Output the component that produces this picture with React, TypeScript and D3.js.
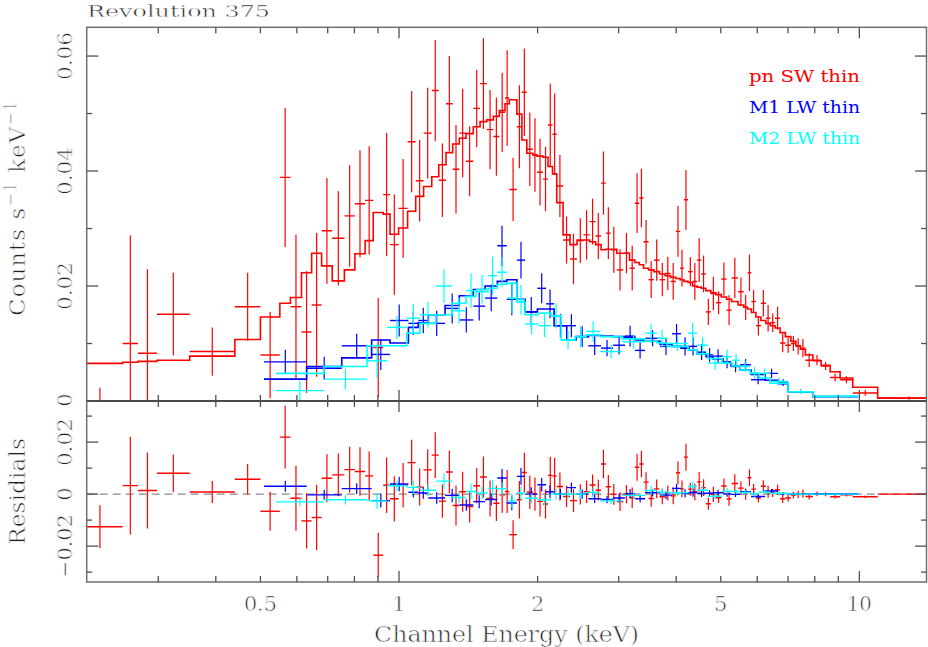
import React from 'react';
import * as d3 from 'd3';

// ---------- pn SW thin (red) ----------
const pnEdges = [0.2, 0.251, 0.271, 0.298, 0.351, 0.440, 0.500, 0.551, 0.581, 0.614, 0.646, 0.679, 0.716, 0.761, 0.802, 0.844, 0.879, 0.924, 0.956, 0.998, 1.044, 1.087, 1.131, 1.178, 1.220, 1.265, 1.308, 1.352, 1.398, 1.450, 1.500, 1.551, 1.603, 1.652, 1.699, 1.736, 1.803, 1.849, 1.895, 1.953, 1.995, 2.055, 2.107, 2.155, 2.201, 2.272, 2.352, 2.436, 2.517, 2.594, 2.673, 2.747, 2.814, 2.885, 2.972, 3.071, 3.168, 3.253, 3.326, 3.398, 3.484, 3.577, 3.681, 3.784, 3.889, 3.994, 4.079, 4.157, 4.245, 4.342, 4.441, 4.535, 4.640, 4.758, 4.878, 5.012, 5.146, 5.277, 5.451, 5.609, 5.717, 5.826, 5.959, 6.110, 6.264, 6.407, 6.560, 6.726, 6.906, 7.100, 7.280, 7.446, 7.635, 7.926, 8.258, 8.639, 9.082, 9.675, 10.96, 15];
const pnRate = [-0.006, 0.0100, 0.0083, 0.0151, 0.0086, 0.0164, 0.0080, 0.0389, 0.0164, 0.0120, 0.0167, 0.0296, 0.0283, 0.0322, 0.0343, 0.0349, 0.0093, 0.0359, 0.0272, 0.0335, 0.0451, 0.0383, 0.0466, 0.0540, 0.0384, 0.0517, 0.0403, 0.0466, 0.0417, 0.0509, 0.0552, 0.0472, 0.0460, 0.0502, 0.0527, 0.0368, 0.0477, 0.0537, 0.0438, 0.0428, 0.0398, 0.0386, 0.0480, 0.0464, 0.0374, 0.0280, 0.0247, 0.0279, 0.0289, 0.0312, 0.0287, 0.0379, 0.0292, 0.0263, 0.0228, 0.0257, 0.0231, 0.0344, 0.0353, 0.0277, 0.0211, 0.0245, 0.0211, 0.0222, 0.0208, 0.0295, 0.0231, 0.0350, 0.0225, 0.0208, 0.0245, 0.0221, 0.0155, 0.0187, 0.0171, 0.0212, 0.0158, 0.0214, 0.0190, 0.0163, 0.0223, 0.0173, 0.0131, 0.0170, 0.0144, 0.0136, 0.0144, 0.0101, 0.0097, 0.0100, 0.0095, 0.0092, 0.0071, 0.0071, 0.0061, 0.0041, 0.0037, 0.0014, 0.0005];
const pnErr = [0.0083, 0.0188, 0.0146, 0.0072, 0.0042, 0.0059, 0.0075, 0.0121, 0.0125, 0.0106, 0.0125, 0.0092, 0.0082, 0.0088, 0.0093, 0.0094, 0.0086, 0.0107, 0.0087, 0.0086, 0.0088, 0.0071, 0.0079, 0.0088, 0.0064, 0.0083, 0.0077, 0.0077, 0.0061, 0.0067, 0.0079, 0.0069, 0.0068, 0.0069, 0.0083, 0.0055, 0.0072, 0.0076, 0.0064, 0.0064, 0.0058, 0.0056, 0.0072, 0.0071, 0.0054, 0.0041, 0.0044, 0.0039, 0.0043, 0.0040, 0.0040, 0.0055, 0.0045, 0.0040, 0.0036, 0.0035, 0.0039, 0.0052, 0.0051, 0.0038, 0.0032, 0.0036, 0.0029, 0.0029, 0.0032, 0.0044, 0.0032, 0.0052, 0.0025, 0.0032, 0.0038, 0.0032, 0.0023, 0.0029, 0.0020, 0.0029, 0.0026, 0.0035, 0.0025, 0.0022, 0.0032, 0.0020, 0.0017, 0.0023, 0.0023, 0.0016, 0.0020, 0.0016, 0.0013, 0.0013, 0.0014, 0.0016, 0.0012, 0.0009, 0.0007, 0.0007, 0.0006, 0.0005, 0.0003];
const pnModel = [0.00655, 0.00673, 0.0069, 0.00708, 0.0078, 0.0107, 0.0146, 0.0170, 0.0180, 0.0223, 0.0257, 0.0235, 0.0209, 0.0228, 0.0256, 0.0279, 0.0328, 0.0325, 0.0290, 0.0301, 0.0330, 0.0356, 0.0373, 0.0390, 0.0411, 0.0432, 0.0447, 0.0457, 0.0465, 0.0477, 0.0486, 0.0489, 0.0495, 0.0505, 0.0517, 0.0524, 0.0499, 0.0454, 0.0431, 0.0428, 0.0426, 0.0424, 0.0408, 0.0395, 0.0345, 0.0289, 0.0272, 0.0280, 0.0280, 0.0277, 0.0272, 0.0263, 0.0264, 0.0264, 0.0257, 0.0257, 0.0245, 0.0241, 0.0237, 0.0231, 0.0228, 0.0225, 0.0221, 0.0218, 0.0215, 0.0213, 0.0211, 0.0208, 0.0206, 0.0200, 0.0198, 0.0196, 0.0192, 0.0188, 0.0185, 0.0181, 0.0177, 0.0173, 0.0167, 0.0163, 0.0160, 0.0154, 0.0146, 0.0140, 0.0135, 0.0131, 0.0127, 0.0119, 0.0112, 0.0104, 0.0096, 0.0090, 0.0080, 0.0070, 0.0062, 0.0051, 0.0040, 0.0024, 0.0005];

// ---------- M1 LW thin (blue) ----------
const m1Edges = [0.509, 0.630, 0.751, 0.872, 0.956, 1.048, 1.101, 1.158, 1.259, 1.352, 1.450, 1.538, 1.635, 1.714, 1.803, 1.879, 1.998, 2.086, 2.172, 2.314, 2.424, 2.578, 2.747, 2.917, 3.098, 3.257, 3.424, 3.690, 3.918, 4.099, 4.266, 4.441, 4.645, 4.811, 5.057, 5.264, 5.506, 5.818, 6.240, 6.659, 6.999, 7.934, 9.935];
const m1Rate = [0.0068, 0.0057, 0.0096, 0.0081, 0.0140, 0.0135, 0.0140, 0.0135, 0.0161, 0.0141, 0.0165, 0.0179, 0.0270, 0.0177, 0.0245, 0.0155, 0.0196, 0.0169, 0.0131, 0.0131, 0.0112, 0.0096, 0.0092, 0.0097, 0.0113, 0.0088, 0.0109, 0.0095, 0.0117, 0.0095, 0.0095, 0.0085, 0.0080, 0.0078, 0.0068, 0.0060, 0.0063, 0.0037, 0.0048, 0.0032, 0.0016, 0.0008];
const m1Err = [0.0021, 0.0020, 0.0021, 0.0027, 0.0028, 0.0020, 0.0022, 0.0022, 0.0026, 0.0022, 0.0025, 0.0023, 0.0035, 0.0028, 0.0032, 0.0026, 0.0026, 0.0025, 0.0020, 0.0020, 0.0018, 0.0016, 0.0014, 0.0016, 0.0018, 0.0014, 0.0014, 0.0015, 0.0017, 0.0016, 0.0016, 0.0014, 0.0012, 0.0012, 0.0011, 0.0010, 0.0010, 0.0008, 0.0008, 0.0006, 0.0004, 0.0002];
const m1Model = [0.0038, 0.0060, 0.0075, 0.0106, 0.0101, 0.0128, 0.0136, 0.0150, 0.0166, 0.0183, 0.0194, 0.0200, 0.0208, 0.0211, 0.0177, 0.0155, 0.0160, 0.0160, 0.0131, 0.0106, 0.0112, 0.0114, 0.0113, 0.0112, 0.0111, 0.0106, 0.0104, 0.0099, 0.0095, 0.0092, 0.0089, 0.0082, 0.0077, 0.0073, 0.0067, 0.0061, 0.0054, 0.0046, 0.0036, 0.0030, 0.0016, 0.00075];

// ---------- M2 LW thin (cyan) ----------
const m2Edges = [0.540, 0.687, 0.852, 0.942, 1.039, 1.111, 1.203, 1.304, 1.398, 1.470, 1.561, 1.633, 1.717, 1.803, 1.879, 2.005, 2.139, 2.249, 2.412, 2.549, 2.734, 3.052, 3.424, 3.635, 3.822, 4.245, 4.441, 4.692, 5.032, 5.290, 5.506, 5.789, 6.055, 6.398, 6.999, 7.934, 9.935];
const m2Rate = [0.0018, 0.0038, 0.0070, 0.0128, 0.0144, 0.0150, 0.0200, 0.0157, 0.0192, 0.0194, 0.0218, 0.0224, 0.0179, 0.0176, 0.0134, 0.0131, 0.0148, 0.0106, 0.0112, 0.0121, 0.0086, 0.0103, 0.0118, 0.0109, 0.0100, 0.0118, 0.0097, 0.0066, 0.0077, 0.0071, 0.0060, 0.0049, 0.0048, 0.0034, 0.0016, 0.0008];
const m2Err = [0.0017, 0.0018, 0.0030, 0.0020, 0.0025, 0.0022, 0.0029, 0.0022, 0.0030, 0.0025, 0.0033, 0.0026, 0.0027, 0.0026, 0.0018, 0.0020, 0.0022, 0.0016, 0.0018, 0.0018, 0.0012, 0.0012, 0.0017, 0.0015, 0.0013, 0.0018, 0.0014, 0.0012, 0.0012, 0.0011, 0.0010, 0.0010, 0.0009, 0.0007, 0.0004, 0.0002];
const m2Model = [0.0048, 0.0060, 0.0096, 0.0096, 0.0118, 0.0135, 0.0150, 0.0170, 0.0182, 0.0190, 0.0196, 0.0203, 0.0205, 0.0172, 0.0150, 0.0153, 0.0148, 0.0106, 0.0112, 0.0115, 0.0112, 0.0108, 0.0104, 0.0101, 0.0095, 0.0089, 0.0082, 0.0074, 0.0066, 0.0061, 0.0054, 0.0048, 0.0040, 0.0031, 0.0016, 0.0008];

// ---------- axes ----------
const xLabeledTicks = [0.5, 1, 2, 5, 10];
const xLabelText = ['0.5', '1', '2', '5', '10'];
const xAllTicks = [0.3, 0.4, 0.5, 0.6, 0.7, 0.8, 0.9, 1, 2, 3, 4, 5, 6, 7, 8, 9, 10];
const xLongTicks = [1, 10];
const topMajor = [0, 0.02, 0.04, 0.06];
const topMajorText = ['0', '0.02', '0.04', '0.06'];
const topMinor = [0.01, 0.03, 0.05];
const resMajor = [-0.02, 0, 0.02];
const resMajorText = ['\u22120.02', '0', '0.02'];
const resMinor = [-0.03, -0.01, 0.01, 0.03];

const legendNames = ['pn SW thin', 'M1 LW thin', 'M2 LW thin'];
const colors = ['#ff0000', '#0000ff', '#00ffff'];

const seriesList = [
  { edges: pnEdges, rate: pnRate, err: pnErr, model: pnModel },
  { edges: m1Edges, rate: m1Rate, err: m1Err, model: m1Model },
  { edges: m2Edges, rate: m2Rate, err: m2Err, model: m2Model },
];

const FONT = "DejaVu Serif";
const TXT = '#222222';
// thin the glyph strokes a little (white outline painted over the fill)
const thin = (w: number) => ({ stroke: '#ffffff', strokeWidth: w, paintOrder: 'fill' as any });

export default function App() {
  const W = 928, H = 647;
  const L = 86.7, R = 926.5, T = 27.3, MID = 401, B = 582;
  const x = d3.scaleLog().domain([0.2097, 13.99]).range([L, R]);
  const yTop = d3.scaleLinear().domain([0, 0.065]).range([MID, T]);
  const yRes = d3.scaleLinear().domain([-0.0338, 0.0358]).range([B, MID]);

  const drawSeries = (s: any, color: string, panel: 'top' | 'res', key: string) => {
    const y = panel === 'top' ? yTop : yRes;
    const n = s.rate.length;
    const items: any[] = [];
    for (let i = 0; i < n; i++) {
      const lo = s.edges[i], hi = s.edges[i + 1];
      const c = Math.sqrt(lo * hi);
      const v = panel === 'top' ? s.rate[i] : s.rate[i] - s.model[i];
      const e = s.err[i];
      items.push(
        <g key={key + i}>
          <line x1={x(lo)} x2={x(hi)} y1={y(v)} y2={y(v)} stroke={color} strokeWidth={1.4} />
          <line x1={x(c)} x2={x(c)} y1={y(v - e)} y2={y(v + e)} stroke={color} strokeWidth={1.2} />
        </g>
      );
    }
    return items;
  };

  const modelPath = (s: any) => {
    const pts: [number, number][] = s.model.map((m: number, i: number) => [s.edges[i], m]);
    pts.push([s.edges[s.edges.length - 1], s.model[s.model.length - 1]]);
    const line = d3.line<[number, number]>().x(d => x(d[0])).y(d => yTop(d[1])).curve(d3.curveStepAfter);
    return line(pts) || '';
  };

  const frameColor = '#707070';
  const tickColor = '#505050';

  const xTicks = (yEdge: number, dir: number, key: string) =>
    xAllTicks.map((t, i) => {
      const len = xLongTicks.includes(t) ? 11 : 6;
      return <line key={key + i} x1={x(t)} x2={x(t)} y1={yEdge} y2={yEdge + dir * len} stroke={tickColor} strokeWidth={1.3} />;
    });

  const yTicks = (vals: number[], scale: any, len: number, key: string) =>
    vals.flatMap((v, i) => [
      <line key={key + 'l' + i} x1={L} x2={L + len} y1={scale(v)} y2={scale(v)} stroke={tickColor} strokeWidth={1.3} />,
      <line key={key + 'r' + i} x1={R} x2={R - len} y1={scale(v)} y2={scale(v)} stroke={tickColor} strokeWidth={1.3} />,
    ]);

  const rotLabel = (txt: string, cx: number, cy: number, size: number, key: string, len?: number) => (
    <text key={key} transform={`translate(${cx},${cy}) rotate(-90)`} textAnchor="middle" fontFamily={FONT}
      fontSize={size} fill={TXT} {...thin(0.7)} {...(len ? { textLength: len, lengthAdjust: 'spacingAndGlyphs' } : {})}>{txt}</text>
  );

  const lenFor = (s: string) => (s.length <= 1 ? undefined : s.startsWith('\u2212') ? 64 : 48);

  return (
    <svg width={W} height={H} style={{ position: 'absolute', left: 0, top: 0, background: '#fff' }}>
      <defs>
        <clipPath id="clipTop"><rect x={L} y={T} width={R - L} height={MID - T} /></clipPath>
        <clipPath id="clipRes"><rect x={L} y={MID} width={R - L} height={B - MID} /></clipPath>
      </defs>
      <rect x={0} y={0} width={W} height={H} fill="#fff" />

      {/* title */}
      <text x={87} y={16.7} fontFamily={FONT} fontSize={17.5} fill={TXT} {...thin(0.5)} textLength={183} lengthAdjust="spacingAndGlyphs">Revolution 375</text>

      {/* residual zero line */}
      <line x1={L} x2={R} y1={yRes(0)} y2={yRes(0)} stroke="#8a8a8a" strokeWidth={1.4} strokeDasharray="8 5" />

      {/* data & models */}
      <g clipPath="url(#clipTop)">
        {seriesList.map((s, k) => (
          <g key={'top' + k}>
            {drawSeries(s, colors[k], 'top', 't' + k + '_')}
            <path d={modelPath(s)} fill="none" stroke={colors[k]} strokeWidth={1.6} />
          </g>
        ))}
      </g>
      <g clipPath="url(#clipRes)">
        {seriesList.map((s, k) => (
          <g key={'res' + k}>{drawSeries(s, colors[k], 'res', 'r' + k + '_')}</g>
        ))}
      </g>

      {/* frames */}
      <rect x={L} y={T} width={R - L} height={B - T} fill="none" stroke={frameColor} strokeWidth={1.5} />
      <line x1={L} x2={R} y1={MID} y2={MID} stroke="#4a4a4a" strokeWidth={2} />

      {/* ticks */}
      {xTicks(T, 1, 'xt')}
      {xTicks(MID, -1, 'xm1')}
      {xTicks(MID, 1, 'xm2')}
      {xTicks(B, -1, 'xb')}
      {yTicks(topMajor, yTop, 11.5, 'ytM')}
      {yTicks(topMinor, yTop, 5.5, 'ytm')}
      {yTicks(resMajor, yRes, 11.5, 'yrM')}
      {yTicks(resMinor, yRes, 5.5, 'yrm')}

      {/* x tick labels */}
      {xLabeledTicks.map((t, i) => (
        <text key={'xl' + i} x={x(t)} y={610.7} textAnchor="middle" fontFamily={FONT} fontSize={21} fill={TXT} {...thin(0.7)}
          {...(xLabelText[i].length > 1 ? { textLength: xLabelText[i].length === 3 ? 33 : 25, lengthAdjust: 'spacingAndGlyphs' } : {})}>
          {xLabelText[i]}
        </text>
      ))}

      {/* y tick labels */}
      {topMajor.map((v, i) => rotLabel(topMajorText[i], 71.7, i === 0 ? yTop(v) - 1 : yTop(v), 21, 'ytl' + i, lenFor(topMajorText[i])))}
      {resMajor.map((v, i) => rotLabel(resMajorText[i], 71.7, yRes(v), 21, 'yrl' + i, lenFor(resMajorText[i])))}

      {/* axis titles */}
      <text x={(L + R) / 2} y={641.5} textAnchor="middle" fontFamily={FONT} fontSize={23} fill={TXT} {...thin(0.7)} textLength={265} lengthAdjust="spacingAndGlyphs">Channel Energy (keV)</text>
      <text transform="translate(25,208) rotate(-90)" textAnchor="middle" fontFamily={FONT} fontSize={23} fill={TXT} {...thin(0.7)} letterSpacing={1}>
        Counts s<tspan dy={-9} fontSize={16}>{'\u22121'}</tspan><tspan dy={9}> keV</tspan><tspan dy={-9} fontSize={16}>{'\u22121'}</tspan>
      </text>
      {rotLabel('Residials', 25, 491.5, 23, 'resl', 107)}

      {/* legend */}
      {legendNames.map((n, i) => (
        <text key={'lg' + i} x={749} y={81.7 + i * 31.2} fontFamily={FONT} fontSize={17} fill={colors[i]} textLength={111} lengthAdjust="spacingAndGlyphs">{n}</text>
      ))}
    </svg>
  );
}
